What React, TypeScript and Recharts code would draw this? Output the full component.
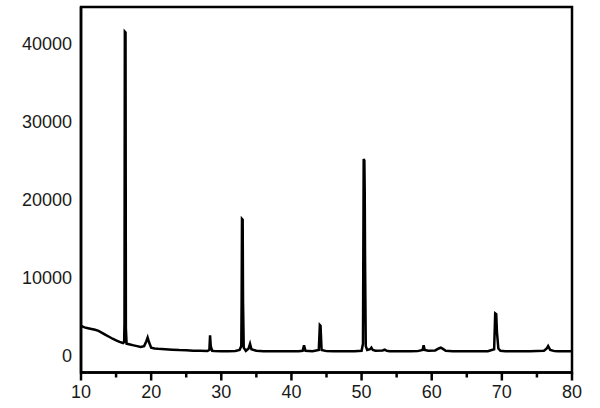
import React from "react";
import { Line, LineChart, ReferenceArea, XAxis, YAxis } from "recharts";

// 2θ positions (degrees) and measured intensity (counts)
const twoTheta = [
  10.0, 10.5, 11.0, 11.5, 12.0, 12.5, 13.0, 13.5, 14.0, 14.5, 15.0, 15.5, 16.0,
  16.15, 16.2, 16.25, 16.35, 16.4, 16.5, 17.0, 17.5, 18.0, 18.5, 19.0, 19.3,
  19.5, 19.7, 20.0, 20.5, 21.0, 22.0, 23.0, 24.0, 25.0, 26.0, 27.0, 28.0, 28.3,
  28.4, 28.5, 28.7, 29.0, 30.0, 31.0, 32.0, 32.6, 32.85, 32.9, 32.95, 33.05,
  33.1, 33.2, 33.5, 33.9, 34.1, 34.3, 35.0, 36.0, 37.0, 38.0, 39.0, 40.0, 41.0,
  41.6, 41.8, 42.0, 43.0, 43.9, 44.05, 44.15, 44.3, 45.0, 46.0, 47.0, 48.0,
  49.0, 50.0, 50.2, 50.3, 50.4, 50.45, 50.5, 50.6, 50.8, 51.2, 51.4, 51.6, 52.0,
  53.0, 53.3, 53.6, 54.0, 55.0, 56.0, 57.0, 58.0, 58.7, 58.85, 59.0, 59.5,
  60.5, 61.0, 61.3, 61.6, 62.0, 63.0, 64.0, 65.0, 66.0, 67.0, 68.0, 68.9,
  69.05, 69.2, 69.3, 69.5, 69.8, 70.5, 71.0, 72.0, 73.0, 74.0, 75.0, 76.0,
  76.4, 76.6, 76.9, 77.5, 78.0, 79.0, 80.0,
];

const intensity = [
  3800, 3600, 3500, 3400, 3300, 3150, 2900, 2650, 2400, 2150, 1950, 1750, 1600,
  1700, 4200, 41500, 41400, 3500, 1500, 1400, 1300, 1200, 1100, 1200, 1800,
  2300, 1700, 1000, 900, 850, 800, 750, 700, 680, 620, 600, 580, 700,
  2600, 1200, 600, 580, 560, 560, 580, 700, 1200, 7000, 17500, 17400,
  7000, 1000, 600, 900, 1500, 800, 600, 560, 540, 560, 540, 550, 560,
  600, 1300, 600, 560, 700, 3900, 3800, 700, 560, 540, 550, 540,
  560, 600, 1500, 25200, 25000, 21000, 12000, 1200, 700, 800, 1000, 700, 600,
  650, 750, 600, 550, 540, 550, 540, 560, 700, 1300, 700, 600,
  650, 900, 1000, 850, 600, 560, 550, 560, 540, 550, 560, 800,
  5400, 5300, 3000, 900, 600, 560, 550, 560, 540, 560, 580, 600,
  900, 1200, 700, 560, 540, 550, 550,
];

const xTicks = [10, 15, 20, 25, 30, 35, 40, 45, 50, 55, 60, 65, 70, 75, 80];
const yTicks = [0, 10000, 20000, 30000, 40000];

const data = twoTheta.map((x, i) => ({ x, y: intensity[i] }));

const font = "'Liberation Sans', Arial, sans-serif";

function XTick(props: any) {
  const { x, y, payload } = props;
  const major = payload.value % 10 === 0;
  return (
    <g>
      <line
        x1={x}
        x2={x}
        y1={y}
        y2={y + (major ? 8 : 5)}
        stroke="#000"
        strokeWidth={2.5}
      />
      {major && (
        <text
          x={x}
          y={y + 13}
          dy="0.71em"
          textAnchor="middle"
          fontSize={18}
          fontFamily={font}
          fill="#1a1a1a"
        >
          {payload.value}
        </text>
      )}
    </g>
  );
}

export default function App() {
  return (
    <div style={{ position: "absolute", left: 0, top: 0, background: "#fff" }}>
      <LineChart
        width={600}
        height={408}
        data={data}
        margin={{ top: 7, right: 28, bottom: 0, left: 0 }}
      >
        <XAxis
          dataKey="x"
          type="number"
          domain={[10, 80]}
          ticks={xTicks}
          interval={0}
          height={35.5}
          tickSize={0}
          tickMargin={0}
          tickLine={false}
          tick={<XTick />}
          axisLine={{ stroke: "#000", strokeWidth: 2.5 }}
        />
        <YAxis
          type="number"
          domain={[-2180, 44680]}
          allowDataOverflow
          ticks={yTicks}
          interval={0}
          width={81}
          tickSize={0}
          tickMargin={9}
          tickLine={false}
          tick={{ fontSize: 18, fontFamily: font, fill: "#1a1a1a" }}
          axisLine={{ stroke: "#000", strokeWidth: 2.5 }}
        />
        {/* frame around the plot */}
        <ReferenceArea
          x1={10}
          x2={80}
          y1={-2180}
          y2={44680}
          ifOverflow="visible"
          fill="none"
          stroke="#000"
          strokeWidth={2.5}
        />
        <Line
          type="linear"
          dataKey="y"
          stroke="#000"
          strokeWidth={2.5}
          dot={false}
          isAnimationActive={false}
        />
      </LineChart>
    </div>
  );
}
